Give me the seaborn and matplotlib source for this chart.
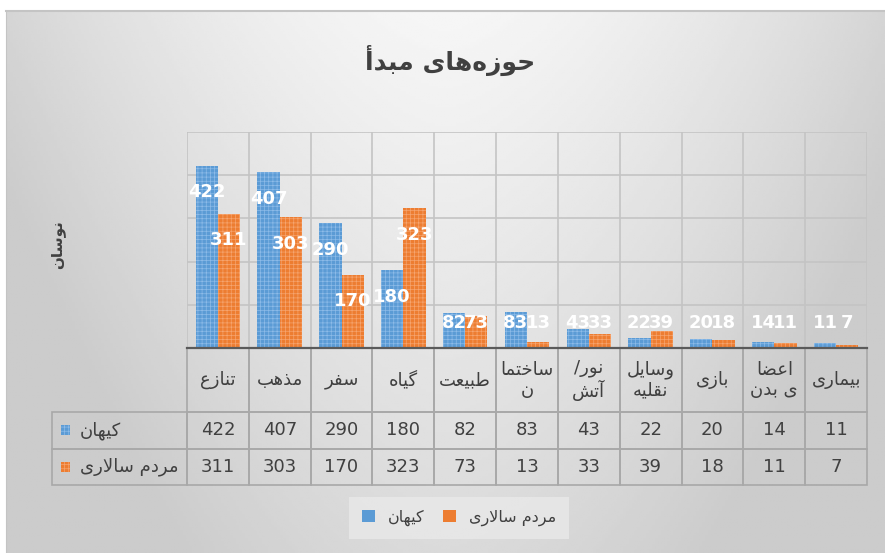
import numpy as np
import pandas as pd
import matplotlib
matplotlib.use("Agg")
import matplotlib.pyplot as plt
import seaborn as sns

# ---- data ----
categories = ["تنازع", "مذهب", "سفر", "گیاه", "طبیعت", "ساختمان",
              "نور/آتش", "وسایل نقلیه", "بازی", "اعضای بدن", "بیماری"]
# the way excel wrapped the long names in the data table
category_lines = ["تنازع", "مذهب", "سفر", "گیاه", "طبیعت", "ساختما\nن",
                  "نور/\nآتش", "وسایل\nنقلیه", "بازی", "اعضا\nی بدن", "بیماری"]
series = ["کیهان", "مردم سالاری"]
kayhan = [422, 407, 290, 180, 82, 83, 43, 22, 20, 14, 11]
mardom = [311, 303, 170, 323, 73, 13, 33, 39, 18, 11, 7]
title = "حوزه‌های مبدأ"
ylabel = "نوسان"
colors = ["#5B9BD5", "#ED7D31"]
hatch_colors = ["#8DBBE8", "#F6A56F"]

# ---- minimal persian shaping (matplotlib has no bidi / joining) ----
JOIN = {
    "\u0627": "\uFE8D\uFE8E", "\u0623": "\uFE83\uFE84", "\u0622": "\uFE81\uFE82",
    "\u062F": "\uFEA9\uFEAA", "\u0630": "\uFEAB\uFEAC", "\u0631": "\uFEAD\uFEAE",
    "\u0632": "\uFEAF\uFEB0", "\u0648": "\uFEED\uFEEE",
    "\u0628": "\uFE8F\uFE90\uFE91\uFE92", "\u062A": "\uFE95\uFE96\uFE97\uFE98",
    "\u062D": "\uFEA1\uFEA2\uFEA3\uFEA4", "\u062E": "\uFEA5\uFEA6\uFEA7\uFEA8",
    "\u0633": "\uFEB1\uFEB2\uFEB3\uFEB4", "\u0634": "\uFEB5\uFEB6\uFEB7\uFEB8",
    "\u0636": "\uFEBD\uFEBE\uFEBF\uFEC0", "\u0637": "\uFEC1\uFEC2\uFEC3\uFEC4",
    "\u0639": "\uFEC9\uFECA\uFECB\uFECC", "\u0641": "\uFED1\uFED2\uFED3\uFED4",
    "\u0642": "\uFED5\uFED6\uFED7\uFED8", "\u0644": "\uFEDD\uFEDE\uFEDF\uFEE0",
    "\u0645": "\uFEE1\uFEE2\uFEE3\uFEE4", "\u0646": "\uFEE5\uFEE6\uFEE7\uFEE8",
    "\u0647": "\uFEE9\uFEEA\uFEEB\uFEEC", "\u06A9": "\uFB8E\uFB8F\uFB90\uFB91",
    "\u06AF": "\uFB92\uFB93\uFB94\uFB95", "\u06CC": "\uFBFC\uFBFD\uFBFE\uFBFF",
}
LAM_ALEF = {"\u0627": "\uFEFB\uFEFC", "\u0623": "\uFEF7\uFEF8", "\u0622": "\uFEF5\uFEF6"}


def dual(c):
    return c in JOIN and len(JOIN[c]) == 4


def fa(text):
    lines = []
    for line in text.split("\n"):
        out = []
        i, n = 0, len(line)
        while i < n:
            c = line[i]
            prev = line[i - 1] if i > 0 else ""
            joins_prev = dual(prev) and c in JOIN
            if c == "\u0644" and i + 1 < n and line[i + 1] in LAM_ALEF:
                out.append(LAM_ALEF[line[i + 1]][1 if joins_prev else 0])
                i += 2
                continue
            if c not in JOIN:
                if c != "\u200c":
                    out.append(c)
                i += 1
                continue
            nxt = line[i + 1] if i + 1 < n else ""
            joins_next = dual(c) and nxt in JOIN
            f = JOIN[c]
            if joins_prev and joins_next:
                out.append(f[3])
            elif joins_prev:
                out.append(f[1])
            elif joins_next:
                out.append(f[2])
            else:
                out.append(f[0])
            i += 1
        lines.append("".join(reversed(out)))
    return "\n".join(lines)


plt.rcParams["font.family"] = ["DejaVu Sans"]
plt.rcParams["hatch.linewidth"] = 0.5
text_col = "#404040"

df = pd.DataFrame({
    "category": categories * 2,
    "series": [series[0]] * len(kayhan) + [series[1]] * len(mardom),
    "value": kayhan + mardom,
})

W, H = 885, 553
fig = plt.figure(figsize=(W / 100, H / 100), dpi=100)

# gradient chart background
bg = fig.add_axes([6 / W, 0, 879 / W, 542 / H], zorder=-10)
gx = np.linspace(-1, 1, 300)
gy = np.linspace(0, 1, 200)
GX, GY = np.meshgrid(gx, gy)
shade = np.clip(0.965 - 0.11 * GY - 0.13 * np.abs(GX) ** 1.6, 0.8, 1)
bg.imshow(shade, cmap="gray", vmin=0, vmax=1, extent=[0, 1, 0, 1], aspect="auto")
bg.set_xticks([])
bg.set_yticks([])
for side, sp in bg.spines.items():
    sp.set_color("#c4c4c4")
    sp.set_linewidth(1.5 if side == "top" else 0.8)
    if side in ("right", "bottom"):
        sp.set_visible(False)

# plot area
left, right, top, bottom = 187, 867, 132, 348
ax = fig.add_axes([left / W, 1 - bottom / H, (right - left) / W, (bottom - top) / H])
ax.patch.set_alpha(0)

sns.barplot(data=df, x="category", y="value", hue="series", palette=colors,
            width=0.72, saturation=1, linewidth=0, ax=ax)

for k, cont in enumerate(ax.containers):
    for bar in cont:
        bar.set_hatch("++++")
        bar.set_edgecolor(hatch_colors[k])
        bar.set_linewidth(0)
        v = bar.get_height()
        ax.text(bar.get_x() + bar.get_width() / 2, max(v - 62, 58), f"{v:.0f}",
                ha="center", va="center", color="white", fontsize=13,
                fontweight="bold", zorder=5)

handles, _ = ax.get_legend_handles_labels()
ax.get_legend().remove()

ax.set_xlim(-0.5, len(categories) - 0.5)
ax.set_ylim(0, 500)
ax.set_yticks([100, 200, 300, 400, 500])
ax.set_xticks(np.arange(-0.5, len(categories), 1), minor=True)
ax.set_xticks([])
ax.grid(axis="y", color="#c4c4c4", lw=1.2)
ax.grid(axis="x", which="minor", color="#c4c4c4", lw=1.2)
ax.set_axisbelow(True)
ax.tick_params(which="both", length=0, labelleft=False, labelbottom=False)
for side in ("left", "right", "top"):
    ax.spines[side].set_visible(False)
ax.spines["bottom"].set_color("#5a5a5a")
ax.spines["bottom"].set_linewidth(1.6)
ax.set_xlabel("")
ax.set_ylabel(fa(ylabel), fontsize=11, fontweight="bold", color=text_col)
ax.yaxis.set_label_coords(-122 / (right - left), 0.48)

# data table under the bars
tab_left, tab_bottom = 52, 485
label_w = left - tab_left
head_h, row_h = 64, 36.5
cell_text = [[fa(series[0])] + [str(v) for v in kayhan],
             [fa(series[1])] + [str(v) for v in mardom]]
col_labels = [""] + [fa(c) for c in category_lines]
col_w = [label_w] + [(right - left) / len(categories)] * len(categories)
pw, ph = right - left, bottom - top
tbl = ax.table(cellText=cell_text, colLabels=col_labels, cellLoc="center",
               colWidths=[w / pw for w in col_w],
               bbox=[(tab_left - left) / pw, (bottom - tab_bottom) / ph,
                     (right - tab_left) / pw, (tab_bottom - bottom) / ph])
tbl.auto_set_font_size(False)
tbl.set_fontsize(13)
for (r, c), cell in tbl.get_celld().items():
    cell.set_facecolor("none")
    cell.set_edgecolor("#a8a8a8")
    cell.set_linewidth(1.2)
    cell.get_text().set_color(text_col)
    cell.set_height(head_h if r == 0 else row_h)
    if r == 0 and c == 0:
        cell.visible_edges = "open"
    if r > 0 and c == 0:
        cell.get_text().set_ha("left")
        cell.PAD = 28 / label_w
        cell._loc = "left"

# little colour keys in the row label cells
for k in range(len(series)):
    ymid = -(head_h + row_h * (k + 0.5)) / ph
    ax.add_patch(plt.Rectangle(((tab_left + 9 - left) / pw, ymid - 5 / ph),
                               9 / pw, 10 / ph, transform=ax.transAxes,
                               facecolor=colors[k], edgecolor=hatch_colors[k],
                               hatch="++++", lw=0, clip_on=False))

fig.text(450 / W, 1 - 60 / H, fa(title), ha="center", va="center",
         fontsize=18, fontweight="bold", color=text_col)

leg = fig.legend(handles, [fa(s) for s in series], loc="center", ncol=2,
                 bbox_to_anchor=(459 / W, 1 - 518 / H), fontsize=11.5,
                 frameon=True, fancybox=False, handlelength=0.8,
                 handleheight=0.8, columnspacing=1.2, borderpad=0.8)
leg.get_frame().set_facecolor("#e9e9e9")
leg.get_frame().set_edgecolor("none")
for t in leg.get_texts():
    t.set_color(text_col)

fig.savefig("out.png", dpi=100)
